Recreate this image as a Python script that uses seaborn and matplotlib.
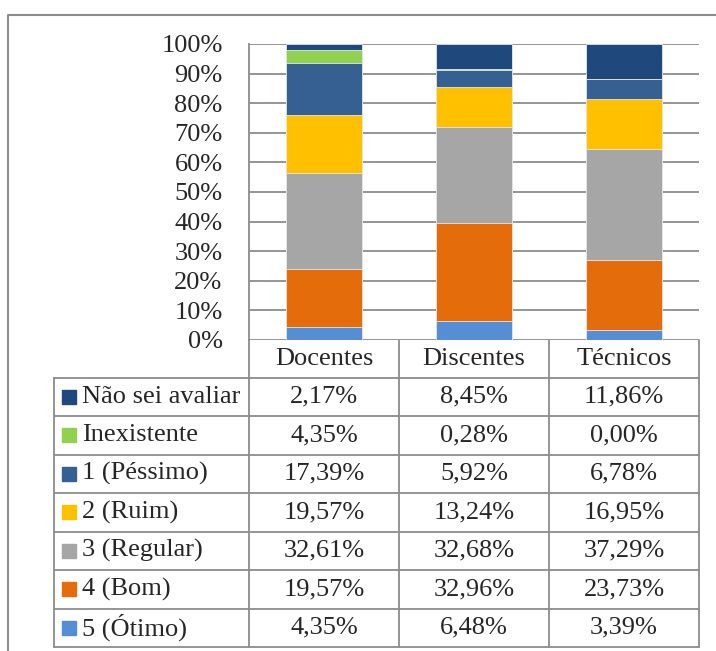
import numpy as np
import pandas as pd
import matplotlib.pyplot as plt
import seaborn as sns

# data (percent), rows listed top -> bottom as in the table
grupos = ['Docentes', 'Discentes', 'Técnicos']
categorias = ['Não sei avaliar', 'Inexistente', '1 (Péssimo)', '2 (Ruim)',
              '3 (Regular)', '4 (Bom)', '5 (Ótimo)']
nao_sei = [2.17, 8.45, 11.86]
inexistente = [4.35, 0.28, 0.00]
pessimo = [17.39, 5.92, 6.78]
ruim = [19.57, 13.24, 16.95]
regular = [32.61, 32.68, 37.29]
bom = [19.57, 32.96, 23.73]
otimo = [4.35, 6.48, 3.39]
cores = ['#1F497D', '#92D050', '#376092', '#FFC000',
         '#A6A6A6', '#E46C0A', '#558ED5']
yticks = [0, 10, 20, 30, 40, 50, 60, 70, 80, 90, 100]

valores = [nao_sei, inexistente, pessimo, ruim, regular, bom, otimo]
df = pd.DataFrame(valores, index=categorias, columns=grupos)

sns.set_style('white')
plt.rcParams['font.family'] = ['Liberation Serif', 'DejaVu Serif']
FS = 19
W, H = 716, 651
GRID = '#8C8C8C'

fig = plt.figure(figsize=(W / 100, H / 100), dpi=100)

# pixel overlay for frame and table
ov = fig.add_axes([0, 0, 1, 1])
ov.set_xlim(0, W)
ov.set_ylim(H, 0)
ov.axis('off')

# chart area
x0, x1, y0, y1 = 249, 699, 44, 340
ax = fig.add_axes([x0 / W, 1 - y1 / H, (x1 - x0) / W, (y1 - y0) / H])

# stacked bars: cumulative totals drawn from the top segment down
cum = df.iloc[::-1].cumsum()
for cat, cor in zip(categorias, cores):
    sns.barplot(x=grupos, y=cum.loc[cat].values, color=cor, width=0.51,
                saturation=1, ax=ax, edgecolor='#E8E8E8', linewidth=0.6,
                zorder=3)

ax.set_ylim(0, 100)
ax.set_xlim(-0.5, 2.5)
ax.set_yticks(yticks)
ax.set_yticklabels([f'{t}%' for t in yticks], fontsize=FS)
ax.tick_params(axis='y', length=0, pad=19)
ax.set_xticks([])
ax.set_xlabel('')
ax.set_ylabel('')
ax.grid(axis='y', color=GRID, linewidth=1.3, zorder=0)
for s in ['top', 'right', 'bottom']:
    ax.spines[s].set_visible(False)
ax.spines['left'].set_color(GRID)
ax.spines['left'].set_linewidth(1.3)

# outer frame (left and top visible)
ov.plot([8, 8, W + 5], [H + 5, 14.5, 14.5], color='#8C8C8C', lw=1.5)

# table
col_x = [249, 399, 549, 699]
leg_x = 54
row_y = [340, 377.5, 416, 454.5, 493, 531.5, 570, 608.5, 647]
lw = 1.3
for x in col_x:
    ov.plot([x, x], [row_y[0], row_y[-1]], color=GRID, lw=lw)
ov.plot([leg_x, leg_x], [row_y[1], row_y[-1]], color=GRID, lw=lw)
for y in row_y[1:]:
    ov.plot([leg_x, col_x[-1]], [y, y], color=GRID, lw=lw)

for j, g in enumerate(grupos):
    cx = (col_x[j] + col_x[j + 1]) / 2
    ov.text(cx, (row_y[0] + row_y[1]) / 2, g, ha='center', va='center',
            fontsize=FS)

for i, (cat, cor) in enumerate(zip(categorias, cores)):
    cy = (row_y[i + 1] + row_y[i + 2]) / 2
    ov.add_patch(plt.Rectangle((62, cy - 7), 14, 14, color=cor))
    ov.text(82, cy, cat, ha='left', va='center', fontsize=FS)
    for j, g in enumerate(grupos):
        cx = (col_x[j] + col_x[j + 1]) / 2
        txt = f'{df.loc[cat, g]:.2f}%'.replace('.', ',')
        ov.text(cx, cy, txt, ha='center', va='center', fontsize=FS)

fig.savefig('out.png', dpi=100)
